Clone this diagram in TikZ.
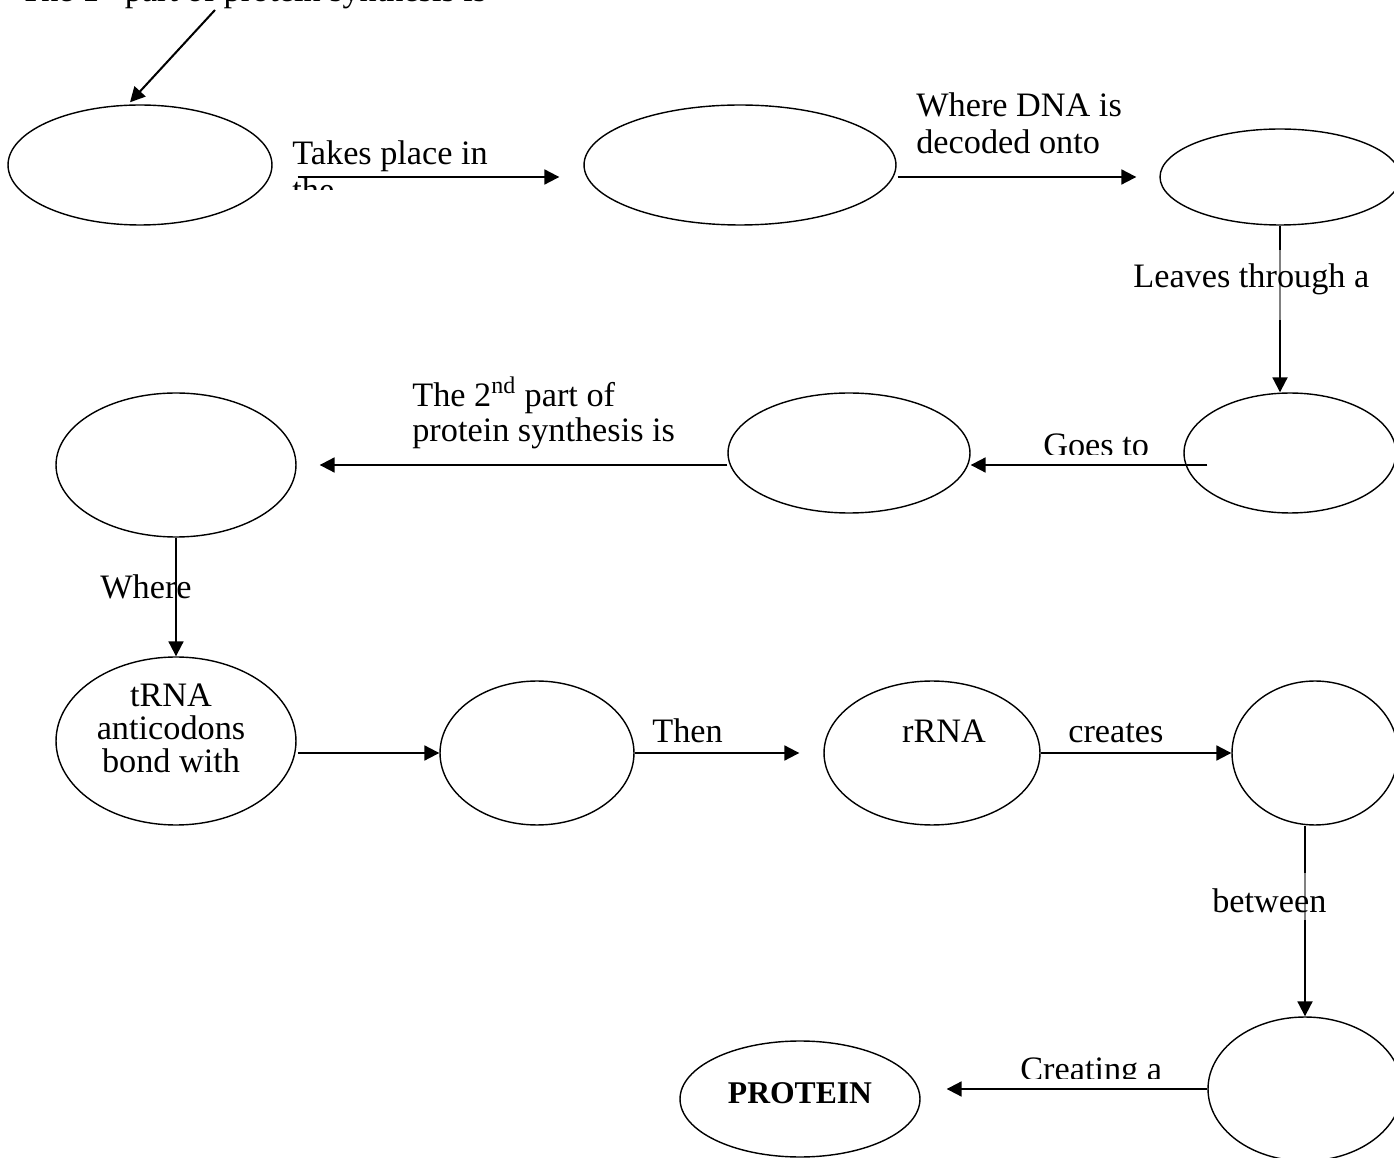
\documentclass[tikz,border=0pt]{standalone}
\usepackage{fontspec}
\setmainfont{Liberation Serif}
\usetikzlibrary{shapes.geometric,arrows.meta,calc}
\begin{document}
\begin{tikzpicture}[x=0.02cm,y=-0.02cm,
  ell/.style={draw, ellipse, line width=0.8pt, inner sep=0pt},
  arr/.style={line width=1.15pt, -{Triangle[length=8.5pt,width=8.5pt]}},
  lbl/.style={inner sep=0pt, anchor=base west, font=\fontsize{19.5}{21}\selectfont},
  ctext/.style={inner sep=0pt, anchor=base, font=\fontsize{19.5}{21}\selectfont},
  graybox/.style={fill=white, fill opacity=0.5, text opacity=1},
]
\useasboundingbox (0,0) rectangle (1394,1158);
\clip (0,0) rectangle (1394,1158);

% ellipses
\node[ell, minimum width=5.28cm, minimum height=2.4cm]  (e1)  at (140,165)  {};
\node[ell, minimum width=6.24cm, minimum height=2.4cm]  (e2)  at (740,165)  {};
\node[ell, minimum width=4.8cm,  minimum height=1.92cm] (e3)  at (1280,177) {};
\node[ell, minimum width=4.24cm, minimum height=2.4cm]  (e4)  at (1290,453) {};
\node[ell, minimum width=4.84cm, minimum height=2.4cm]  (e5)  at (849,453)  {};
\node[ell, minimum width=4.8cm,  minimum height=2.88cm] (e6)  at (176,465)  {};
\node[ell, minimum width=4.8cm,  minimum height=3.36cm] (e7)  at (176,741)  {};
\node[ell, minimum width=3.88cm, minimum height=2.88cm] (e8)  at (537,753)  {};
\node[ell, minimum width=4.32cm, minimum height=2.88cm] (e9)  at (932,753)  {};
\node[ell, minimum width=3.32cm, minimum height=2.88cm] (e10) at (1315,753) {};
\node[ell, minimum width=3.88cm, minimum height=2.88cm] (e11) at (1305,1089) {};
\node[ell, minimum width=4.8cm,  minimum height=2.32cm] (ep)  at (800,1099) {};

% texts inside ellipses
\node[ctext, align=center, font=\fontsize{19.5}{19}\selectfont] (t7) at (171,773)
  {tRNA\\anticodons\\bond with};
\node[ctext] (t9) at (944,743) {rRNA};
\node[ctext, font=\fontsize{18}{20}\selectfont\bfseries] (tp) at (800,1103) {PROTEIN};

% top text (mostly outside the picture)
\node[lbl] (ttop) at (20,2) {The 1\textsuperscript{st} part of protein synthesis is};
\coordinate (c0) at (215,10);

% connectors with translucent label boxes (drawn before their labels)
\draw[arr] (e3.south) -- ($(e4.north)+(-10,0)$);
\draw[arr] ($(e10.south)+(-10,0)$) -- (e11.north);

% labels
\begin{scope}
  \clip (280,130) rectangle (520,190);
  \node[lbl] (l1a) at (292,165) {Takes place in};
  \node[lbl] (l1b) at (292,202) {the};
\end{scope}
\node[lbl] (l2a) at (916,117) {Where DNA is};
\node[lbl] (l2b) at (916,154) {decoded onto};
\node[lbl, graybox, text height=0.76cm, text depth=0.64cm] (l3) at (1133,288) {Leaves through a};
\begin{scope}
  \clip (1000,420) rectangle (1180,455);
  \node[lbl] (l4) at (1043,457) {Goes to};
\end{scope}
\node[lbl] (l5a) at (412,407) {The 2\textsuperscript{nd} part of};
\node[lbl] (l5b) at (412,442) {protein synthesis is};
\node[lbl] (l6) at (100,599) {Where};
\node[lbl] (l8) at (652,743) {Then};
\node[lbl] (l9) at (1068,743) {creates};
\node[lbl, graybox, text height=0.78cm, text depth=0.16cm] (l10) at (1212,912) {between};
\begin{scope}
  \clip (1000,1040) rectangle (1180,1078);
  \node[lbl] (l11) at (1020,1080) {Creating a};
\end{scope}

% connectors
\draw[arr] (c0) -- ($(e1.north)+(-10,-2)$);
\draw[arr] ($(e1.east)+(25,12)$) -- ($(e2.west)+(-24,12)$);
\draw[arr] ($(e2.east)+(1,12)$) -- ($(e3.west)+(-23,0)$);
\draw[arr] ($(e4.west)+(24,12)$) -- ($(e5.east)+(0,12)$);
\draw[arr] ($(e5.west)+(0,12)$) -- ($(e6.east)+(23,0)$);
\draw[arr] (e6.south) -- (e7.north);
\draw[arr] ($(e7.east)+(1,12)$) -- (e8.west);
\draw[arr] (e8.east) -- ($(e9.west)+(-24,0)$);
\draw[arr] (e9.east) -- (e10.west);
\draw[arr] (e11.west) -- ($(ep.east)+(26,-10)$);
\end{tikzpicture}
\end{document}
